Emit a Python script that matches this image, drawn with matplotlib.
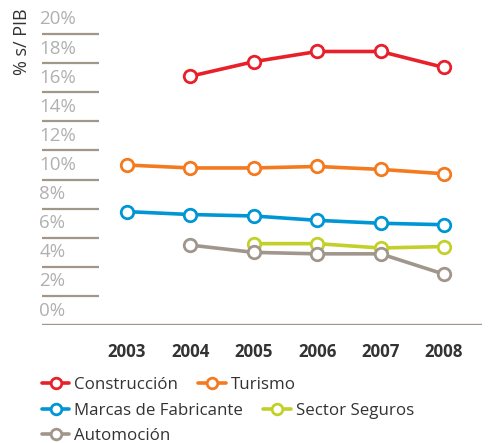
import numpy as np
import matplotlib.pyplot as plt

# data (% of GDP)
years = [2003, 2004, 2005, 2006, 2007, 2008]
construccion = [np.nan, 17.1, 18.1, 18.8, 18.8, 17.7]
turismo = [11.0, 10.8, 10.8, 10.9, 10.7, 10.4]
marcas = [7.8, 7.6, 7.5, 7.2, 7.0, 6.9]
seguros = [np.nan, np.nan, 5.6, 5.6, 5.3, 5.4]
automocion = [np.nan, 5.5, 5.0, 4.9, 4.9, 3.5]
yticks = [0, 2, 4, 6, 8, 10, 12, 14, 16, 18, 20]

series = [
    ("Construcción", construccion, "#e8202a"),
    ("Turismo", turismo, "#f47a20"),
    ("Marcas de Fabricante", marcas, "#0096d6"),
    ("Sector Seguros", seguros, "#c3d02a"),
    ("Automoción", automocion, "#a0968c"),
]

plt.rcParams['font.family'] = ['Open Sans', 'DejaVu Sans']
grid_col = "#a0968a"

fig = plt.figure(figsize=(4.88, 4.43), dpi=100)
ax = fig.add_axes([0.086, 0.266, 0.902, 0.7065])
ax.set_xlim(2001.66, 2008.6)
ax.set_ylim(0, 21.5)
for s in ax.spines.values():
    s.set_visible(False)

# short gridlines with labels above them
ax.hlines(yticks[1:], 2001.66, 2002.56, color=grid_col, lw=1.6)
ax.axhline(0, color=grid_col, lw=2.4)
for v in yticks:
    ax.text(2001.62, v + 1.0, f"{v}%", ha='left', va='center',
            fontsize=13.5, color="#b0b0b0")

handles = {}
for name, vals, col in series:
    h, = ax.plot(years, vals, color=col, lw=2.6, marker='o', ms=9,
                 mfc='white', mec=col, mew=2.0, solid_capstyle='round')
    handles[name] = h

ax.set_yticks([])
ax.set_xticks(years)
ax.set_xticklabels([str(y) for y in years], fontsize=12.2, fontweight='bold',
                   color="#333333")
ax.tick_params(axis='x', length=0, pad=13)

fig.text(0.045, 0.982, "% s/ PIB", rotation=90, ha='center', va='top',
         fontsize=13, color="#333333")

rows = [["Construcción", "Turismo"],
        ["Marcas de Fabricante", "Sector Seguros"],
        ["Automoción"]]
row_y = [385, 411, 436]
for names, py in zip(rows, row_y):
    hs = [handles[n] for n in names]
    leg = fig.legend(hs, names, loc='center left',
                     bbox_to_anchor=(42 / 488, 1 - py / 443),
                     ncol=len(names), frameon=False, fontsize=12.2,
                     handlelength=1.6, handletextpad=0.3,
                     columnspacing=1.2, borderpad=0, borderaxespad=0,
                     markerscale=0.85)
    for t in leg.get_texts():
        t.set_color("#333333")

fig.savefig("out.png", dpi=100)
